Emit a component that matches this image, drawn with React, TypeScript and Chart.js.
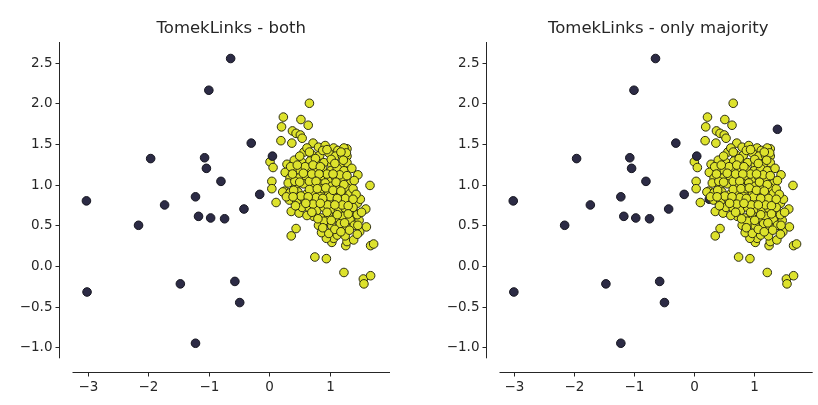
import React, { useEffect, useRef } from "react";
import { Chart, registerables } from "chart.js";

Chart.register(...registerables);

// Minority-class samples kept by both resampling strategies
const darkKept: [number, number][] = [
  [-0.64, 2.55], [-1.0, 2.16], [-0.3, 1.51], [-1.96, 1.32], [-1.07, 1.33],
  [-1.04, 1.2], [0.05, 1.35], [-0.8, 1.04], [-0.16, 0.88], [-1.22, 0.85],
  [-3.02, 0.8], [-1.73, 0.75], [-0.42, 0.7], [-1.17, 0.61], [-0.97, 0.59],
  [-0.74, 0.58], [-2.16, 0.5], [-3.01, -0.32], [-1.47, -0.22], [-0.57, -0.19],
  [-0.49, -0.45], [-1.22, -0.95],
];

// Minority samples that sit in Tomek links (only kept when majority is cleaned)
const darkLinked: [number, number][] = [
  [1.4, 1.68], [0.26, 0.82], [0.84, 0.74], [1.17, 0.54], [1.42, 0.5],
];

// Majority-class samples
const yellowPoints: [number, number][] = [
  [0.66, 2.0], [0.23, 1.83], [0.52, 1.8], [0.2, 1.71], [0.64, 1.73], [0.38, 1.66],
  [0.44, 1.63], [0.51, 1.61], [0.54, 1.57], [0.19, 1.54], [0.37, 1.51], [0.01, 1.28],
  [0.06, 1.21], [0.04, 1.04], [0.04, 0.95], [0.11, 0.78], [0.25, 0.92], [0.36, 0.67],
  [0.49, 0.65], [0.44, 0.46], [0.36, 0.37], [0.75, 0.11], [0.94, 0.09], [1.23, -0.08],
  [1.55, -0.16], [1.56, -0.22], [1.67, -0.12], [1.67, 0.25], [1.72, 0.27], [1.66, 0.99],
  [1.46, 1.12], [1.28, 1.44], [1.28, 1.35], [1.59, 0.7], [1.6, 0.48], [1.49, 0.42],
  [1.48, 0.56], [1.26, 0.25], [1.28, 0.3], [1.03, 0.29], [1.06, 0.34], [0.94, 0.34],
  [0.86, 0.41], [1.39, 0.32], [1.14, 0.45], [1.34, 0.59],
  [0.72, 1.51], [0.81, 1.46], [0.92, 1.48], [1.06, 1.45], [1.13, 1.42], [1.23, 1.45],
  [0.57, 1.4], [0.7, 1.37], [0.83, 1.36], [0.98, 1.39], [1.09, 1.35], [1.2, 1.36], [1.27, 1.39],
  [0.29, 1.25], [0.41, 1.3], [0.54, 1.27], [0.67, 1.29], [0.78, 1.26], [0.9, 1.27],
  [1.03, 1.24], [1.17, 1.25], [1.28, 1.27],
  [0.4, 1.19], [0.51, 1.17], [0.65, 1.21], [0.76, 1.17], [0.88, 1.19], [1.01, 1.17],
  [1.12, 1.2], [1.23, 1.17],
  [0.26, 1.15], [0.34, 1.08], [0.48, 1.08], [0.61, 1.1], [0.73, 1.08], [0.85, 1.09],
  [0.98, 1.06], [1.09, 1.09], [1.2, 1.06], [1.34, 1.02],
  [0.31, 1.02], [0.44, 0.99], [0.56, 1.01], [0.7, 0.99], [0.83, 1.01], [0.92, 1.02],
  [1.03, 0.98], [1.16, 0.99], [1.28, 0.96],
  [0.22, 0.91], [0.34, 0.9], [0.47, 0.91], [0.61, 0.88], [0.73, 0.9], [0.85, 0.88],
  [0.98, 0.9], [1.1, 0.88], [1.22, 0.86], [1.33, 0.89],
  [0.33, 0.81], [0.45, 0.8], [0.57, 0.83], [0.69, 0.8], [0.81, 0.81], [0.94, 0.78],
  [1.06, 0.81], [1.18, 0.79], [1.31, 0.8],
  [0.54, 0.72], [0.66, 0.71], [0.78, 0.68], [0.9, 0.72], [1.02, 0.7], [1.14, 0.68],
  [1.25, 0.71], [1.39, 0.67],
  [0.73, 0.61], [0.85, 0.59], [0.98, 0.62], [1.09, 0.59], [1.2, 0.61], [1.33, 0.57], [1.45, 0.63],
  [0.81, 0.5], [0.92, 0.52], [1.03, 0.49], [1.17, 0.52], [1.28, 0.47], [1.4, 0.5],
  [0.98, 0.4], [1.12, 0.38], [1.25, 0.37], [1.45, 0.39],
  [0.62, 1.45], [0.88, 1.42], [0.76, 1.32], [1.02, 1.31], [0.35, 1.22], [0.59, 1.22],
  [0.95, 1.13], [1.16, 1.12], [0.42, 1.04], [0.66, 1.04], [0.88, 0.95], [1.12, 0.94],
  [1.38, 0.95], [0.28, 0.85], [0.52, 0.86], [0.77, 0.84], [1.0, 0.85], [1.25, 0.83],
  [0.43, 0.74], [0.72, 0.76], [0.96, 0.75], [1.2, 0.75], [1.45, 0.77], [0.62, 0.62],
  [0.9, 0.55], [1.12, 0.63], [1.38, 0.72], [1.52, 0.66], [1.08, 0.45], [1.32, 0.44],
  [0.8, 0.58], [1.24, 0.53], [1.5, 0.82], [1.4, 1.05], [1.36, 1.2],
  [0.5, 1.35], [0.66, 1.4], [0.95, 1.43], [1.18, 1.4], [0.46, 1.24], [0.72, 1.24],
  [0.84, 1.22], [1.08, 1.26], [1.22, 1.3], [0.38, 1.13], [0.56, 1.14], [0.7, 1.13],
  [0.82, 1.13], [1.05, 1.13], [1.28, 1.11], [0.5, 1.03], [0.77, 1.04], [1.1, 1.03],
  [1.23, 1.0], [0.4, 0.93], [0.66, 0.94], [0.79, 0.95], [0.93, 0.96], [1.05, 0.93],
  [1.18, 0.92], [1.43, 0.88], [0.39, 0.85], [0.64, 0.85], [0.88, 0.83], [1.12, 0.83],
  [1.38, 0.82], [0.6, 0.77], [0.84, 0.77], [1.08, 0.75], [1.3, 0.74], [0.7, 0.66],
  [0.95, 0.66], [1.3, 0.64], [1.02, 0.56], [1.46, 0.5], [1.18, 0.42], [0.88, 0.47],
];

const xTicks = [-3, -2, -1, 0, 1];
const yTicks = [-1.0, -0.5, 0.0, 0.5, 1.0, 1.5, 2.0, 2.5];
const X_RANGE = [-3.25, 1.99];
const Y_RANGE = [-1.135, 2.753];

const TEXT = "#262626";
const FONT = "DejaVu Sans";
const TICK_SIZE = 13.5;

const fmtTick = (v: number, decimals: number) =>
  (v < 0 ? "\u2212" : "") + Math.abs(v).toFixed(decimals);

// Draws seaborn-style despined axes, pushed away from the data area
const offsetAxes = {
  id: "offsetAxes",
  afterDraw(chart: any) {
    const { ctx, chartArea, scales } = chart;
    const off = 14;
    const tickLen = 4;
    ctx.save();
    ctx.strokeStyle = TEXT;
    ctx.fillStyle = TEXT;
    ctx.lineWidth = 1;
    ctx.font = `${TICK_SIZE}px "${FONT}"`;

    const sx = Math.round(chartArea.left - off) + 0.5;
    ctx.beginPath();
    ctx.moveTo(sx, chartArea.top);
    ctx.lineTo(sx, chartArea.bottom);
    ctx.stroke();
    ctx.textAlign = "right";
    ctx.textBaseline = "middle";
    for (const v of yTicks) {
      const py = Math.round(scales.y.getPixelForValue(v)) + 0.5;
      ctx.beginPath();
      ctx.moveTo(sx - tickLen, py);
      ctx.lineTo(sx, py);
      ctx.stroke();
      ctx.fillText(fmtTick(v, 1), sx - tickLen - 3, py);
    }

    const sy = Math.round(chartArea.bottom + off) + 0.5;
    ctx.beginPath();
    ctx.moveTo(chartArea.left, sy);
    ctx.lineTo(chartArea.right, sy);
    ctx.stroke();
    ctx.textAlign = "center";
    ctx.textBaseline = "top";
    for (const v of xTicks) {
      const px = Math.round(scales.x.getPixelForValue(v)) + 0.5;
      ctx.beginPath();
      ctx.moveTo(px, sy);
      ctx.lineTo(px, sy + tickLen);
      ctx.stroke();
      ctx.fillText(fmtTick(v, 0), px, sy + tickLen + 4);
    }
    ctx.restore();
  },
};

const toXY = (pts: [number, number][]) => pts.map(([x, y]) => ({ x, y }));

function Panel({
  title,
  withLinked,
  left,
  padLeft,
  padRight,
}: {
  title: string;
  withLinked: boolean;
  left: number;
  padLeft: number;
  padRight: number;
}) {
  const ref = useRef<HTMLCanvasElement>(null);
  useEffect(() => {
    if (!ref.current) return;
    const pointStyle = { pointRadius: 4.3, pointHoverRadius: 4.3, borderWidth: 1 };
    const datasets: any[] = [
      {
        label: "minority",
        data: toXY(darkKept),
        backgroundColor: "#2c2b45",
        borderColor: "#15151f",
        order: 0,
        ...pointStyle,
      },
      {
        label: "majority",
        data: toXY(yellowPoints),
        backgroundColor: "#dde22c",
        borderColor: "#2d2d12",
        order: 1,
        ...pointStyle,
      },
    ];
    if (withLinked) {
      datasets.push({
        label: "minority (linked)",
        data: toXY(darkLinked),
        backgroundColor: "#2c2b45",
        borderColor: "#15151f",
        order: 2,
        ...pointStyle,
      });
    }
    const chart = new Chart(ref.current, {
      type: "scatter",
      data: { datasets },
      options: {
        animation: false,
        responsive: false,
        devicePixelRatio: 1,
        layout: { padding: { left: padLeft, right: padRight, top: 0, bottom: 46.7 } },
        scales: {
          x: { type: "linear", display: false, min: X_RANGE[0], max: X_RANGE[1] },
          y: { type: "linear", display: false, min: Y_RANGE[0], max: Y_RANGE[1] },
        },
        plugins: {
          legend: { display: false },
          tooltip: { enabled: false },
          title: {
            display: true,
            text: title,
            color: TEXT,
            font: { family: FONT, size: 16.5, weight: "normal" },
            padding: { top: 19, bottom: 3.2 },
          },
        },
      },
      plugins: [offsetAxes],
    });
    return () => chart.destroy();
  }, [title, withLinked, padLeft, padRight]);

  return (
    <canvas
      ref={ref}
      width={409}
      height={405}
      style={{ position: "absolute", left, top: 0, width: 409, height: 405 }}
    />
  );
}

export default function App() {
  return (
    <div
      style={{
        position: "fixed",
        left: 0,
        top: 0,
        width: 818,
        height: 405,
        background: "#ffffff",
        overflow: "hidden",
      }}
    >
      <Panel title="TomekLinks - both" withLinked={false} left={0} padLeft={72.5} padRight={19} />
      <Panel
        title="TomekLinks - only majority"
        withLinked={true}
        left={409}
        padLeft={90.5}
        padRight={1}
      />
    </div>
  );
}
